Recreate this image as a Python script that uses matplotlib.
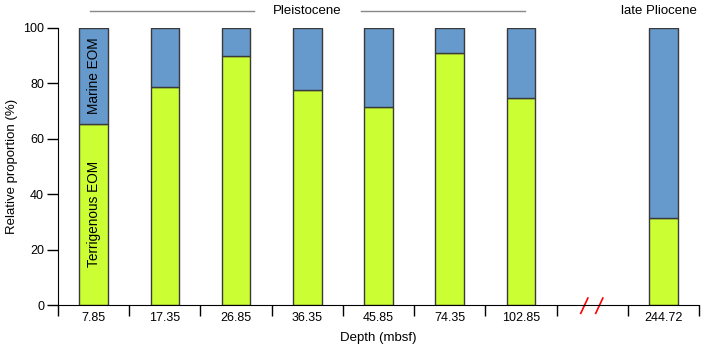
import matplotlib
matplotlib.use("Agg")
from matplotlib import pyplot as plt
from matplotlib import transforms

plt.rcParams['font.family'] = ['Liberation Sans', 'DejaVu Sans']

# dados
depths = ['7.85', '17.35', '26.85', '36.35', '45.85', '74.35', '102.85', '', '244.72']
terrigenous = [65.5, 78.8, 90.0, 77.6, 71.5, 91.0, 74.8, None, 31.3]
marine = [100 - t if t is not None else None for t in terrigenous]

green = '#ccff33'
blue = '#6699cc'
edge = '#3a3a3a'

fig = plt.figure(figsize=(7.02, 3.5), dpi=100)
ax = fig.add_axes([58/702, 1 - 305/350, 641/702, 277/350])

pos = [i for i, t in enumerate(terrigenous) if t is not None]
ter = [terrigenous[i] for i in pos]
mar = [marine[i] for i in pos]
ax.bar(pos, ter, width=0.4, color=green, edgecolor=edge, linewidth=1)
ax.bar(pos, mar, bottom=ter, width=0.4, color=blue, edgecolor=edge, linewidth=1)

# rotulos dentro da primeira barra
ax.text(0, (ter[0] + 100) / 2, 'Marine EOM', rotation=90, ha='center', va='center', fontsize=9.8)
ax.text(0, ter[0] / 2, 'Terrigenous EOM', rotation=90, ha='center', va='center', fontsize=9.8)

ax.set_xlim(-0.5, len(depths) - 0.5)
ax.set_ylim(0, 100)
ax.set_yticks([0, 20, 40, 60, 80, 100])
ax.set_xticks(range(len(depths)))
ax.set_xticklabels(depths)
ax.set_xticks([i - 0.5 for i in range(len(depths) + 1)], minor=True)
ax.tick_params(axis='x', which='major', length=0, pad=5, labelsize=9)
ax.tick_params(axis='x', which='minor', length=8, width=1, direction='out')
ax.tick_params(axis='y', length=8, width=1, direction='out', labelsize=9, pad=2)
ax.spines['top'].set_visible(False)
ax.spines['right'].set_visible(False)
ax.set_xlabel('Depth (mbsf)', fontsize=9.5, labelpad=6)
ax.set_ylabel('Relative proportion (%)', fontsize=9.5, labelpad=4)

# quebra do eixo
tr = transforms.blended_transform_factory(ax.transData, ax.transAxes)
for dx in (-0.11, 0.1):
    ax.plot([7 + dx - 0.05, 7 + dx + 0.05], [-0.03, 0.025], color='red', lw=1.2, transform=tr, clip_on=False)

# epocas
ax.plot([-0.05, 2.25], [1.06, 1.06], color='#888888', lw=1, transform=tr, clip_on=False)
ax.plot([3.75, 6.05], [1.06, 1.06], color='#888888', lw=1, transform=tr, clip_on=False)
ax.text(3.0, 1.06, 'Pleistocene', ha='center', va='center', fontsize=9.5, transform=tr)
ax.text(8.47, 1.06, 'late Pliocene', ha='right', va='center', fontsize=9.5, transform=tr)

fig.savefig('out.png', dpi=100)
